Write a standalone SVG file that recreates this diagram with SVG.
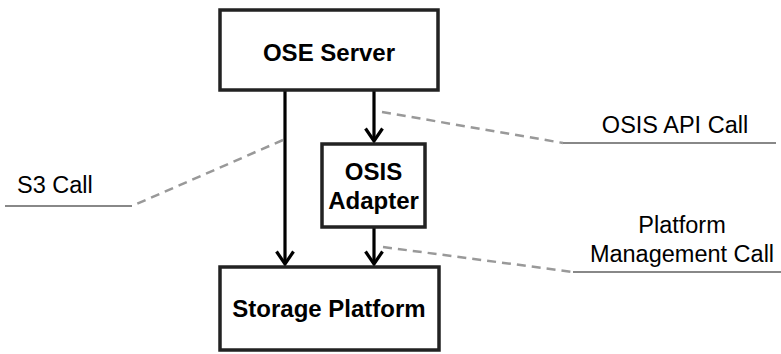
<svg xmlns="http://www.w3.org/2000/svg" width="781" height="354" viewBox="0 0 781 354">
<style>
.box{fill:#fff;stroke:#222;stroke-width:3.5}
.lbl{font-family:"Liberation Sans",Arial,sans-serif;font-weight:bold;font-size:24px;fill:#000;text-anchor:middle}
.note{font-family:"Liberation Sans",Arial,sans-serif;font-size:23.5px;fill:#000}
.conn{stroke:#000;stroke-width:3.2;fill:none}
.dash{stroke:#999;stroke-width:2.5;stroke-dasharray:9 6;fill:none}
.solid{stroke:#888;stroke-width:2;fill:none}
</style>
<defs>
<marker id="arr" viewBox="0 0 16 20" refX="14" refY="10" markerWidth="16" markerHeight="20" markerUnits="userSpaceOnUse" orient="auto">
<path d="M1.5,1.5 L14,10 L1.5,18.5" fill="none" stroke="#000" stroke-width="3.2"/>
</marker>
</defs>
<g id="connectors">
<path class="conn" d="M285,90 V264" marker-end="url(#arr)"/>
<path class="conn" d="M374,90 V141" marker-end="url(#arr)"/>
<path class="conn" d="M374,227 V264" marker-end="url(#arr)"/>
</g>
<g id="ose-server">
<rect class="box" x="220" y="10" width="218" height="80"/>
<text class="lbl" x="329" y="61">OSE Server</text>
</g>
<g id="osis-adapter">
<rect class="box" x="322" y="144" width="103" height="83"/>
<text class="lbl" x="373.5" y="180">OSIS</text>
<text class="lbl" x="373.5" y="209">Adapter</text>
</g>
<g id="storage-platform">
<rect class="box" x="220" y="267" width="219" height="83"/>
<text class="lbl" x="329" y="317">Storage Platform</text>
</g>
<g id="s3-call">
<path class="dash" d="M283,140 L132,206"/>
<path class="solid" d="M5,206 H132"/>
<text class="note" x="17" y="193">S3 Call</text>
</g>
<g id="osis-api-call">
<path class="dash" d="M382,112 L563,143"/>
<path class="solid" d="M563,143 H776"/>
<text class="note" x="675" y="133" text-anchor="middle">OSIS API Call</text>
</g>
<g id="platform-management-call">
<path class="dash" d="M383,247 L573,272"/>
<path class="solid" d="M573,272 H781"/>
<text class="note" x="682" y="233" text-anchor="middle">Platform</text>
<text class="note" x="682" y="262" text-anchor="middle">Management Call</text>
</g>
</svg>
